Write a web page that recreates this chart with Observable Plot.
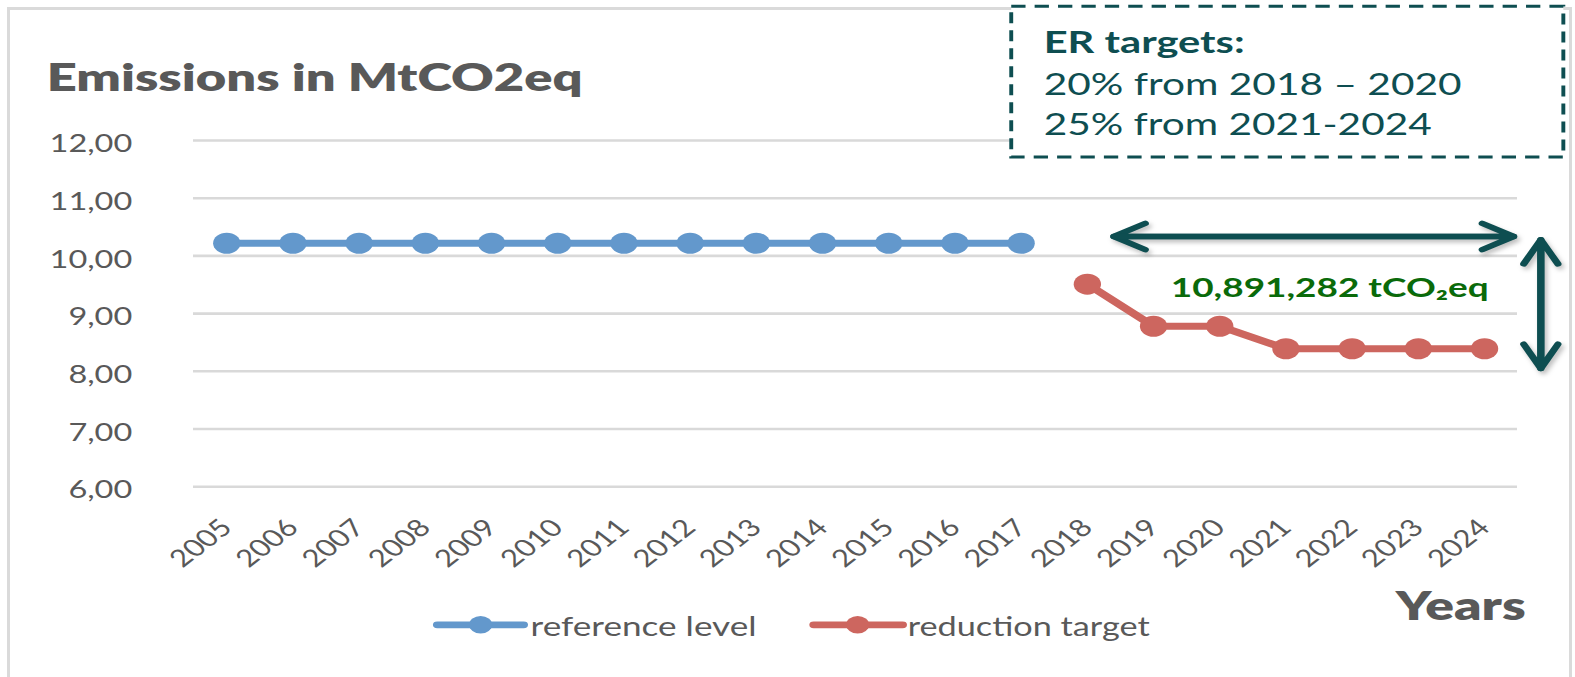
<!DOCTYPE html>
<html>
<head>
<meta charset="utf-8">
<script src="https://cdn.jsdelivr.net/npm/d3@7"></script>
<script src="https://cdn.jsdelivr.net/npm/@observablehq/plot@0.6"></script>
<style>
  html, body { margin: 0; padding: 0; background: #ffffff; }
  #wrap { position: relative; width: 1575px; height: 677px; overflow: hidden; }
  #border { position: absolute; left: 7px; top: 7px; width: 1565px; height: 740px;
            border: 3px solid #dadada; box-sizing: border-box; }
  #chart { position: absolute; left: 0; top: 0; }
</style>
</head>
<body>
<div id="wrap"><div id="border"></div><div id="chart"></div></div>
<script>
// ---------- data ----------
const years = [2005, 2006, 2007, 2008, 2009, 2010, 2011, 2012, 2013, 2014,
               2015, 2016, 2017, 2018, 2019, 2020, 2021, 2022, 2023, 2024];
const referenceYears = [2005, 2006, 2007, 2008, 2009, 2010, 2011, 2012, 2013, 2014, 2015, 2016, 2017];
const referenceValues = [10.22, 10.22, 10.22, 10.22, 10.22, 10.22, 10.22, 10.22, 10.22, 10.22, 10.22, 10.22, 10.22];
const targetYears = [2018, 2019, 2020, 2021, 2022, 2023, 2024];
const targetValues = [9.51, 8.78, 8.78, 8.39, 8.39, 8.39, 8.39];
const yTicks = [6, 7, 8, 9, 10, 11, 12];
const yTickLabels = ["6,00", "7,00", "8,00", "9,00", "10,00", "11,00", "12,00"];
const seriesNames = ["reference level", "reduction target"];
const titleText = "Emissions in MtCO2eq";
const xTitleText = "Years";
const boxLines = ["ER targets:", "20% from 2018 – 2020", "25% from 2021-2024"];
const annotationText = "10,891,282 tCO₂eq";

// ---------- styles / layout ----------
const S = 1.3;                 // horizontal stretch of the original picture
const W = 1575 / S, H = 677;
const BLUE = "#6398cc", RED = "#cd665f", TEAL = "#0e4e51", GREEN = "#0a6a0a", GRAY = "#595959", GRID = "#d9d9d9";

const referenceData = referenceYears.map((year, i) => ({year, value: referenceValues[i]}));
const targetData = targetYears.map((year, i) => ({year, value: targetValues[i]}));

// annotation geometry, in data units (years, MtCO2eq)
const arrows = [
  {x1: 2024.44, y1: 10.336, x2: 2018.40, y2: 10.336},
  {x1: 2018.40, y1: 10.336, x2: 2024.44, y2: 10.336},
  {x1: 2024.85, y1: 8.05, x2: 2024.85, y2: 10.28},
  {x1: 2024.85, y1: 10.28, x2: 2024.85, y2: 8.05}
];
const box = [{x1: 2016.86, x2: 2025.20, y1: 11.705, y2: 14.32}];
const boxText = boxLines.map((text, i) => ({text, x: 2017.34, y: [13.508, 12.797, 12.087][i], bold: i === 0}));
const annotation = [{text: annotationText, x: 2019.26, y: 9.284}];
const legend = [
  {label: seriesNames[0], color: BLUE, x1: 2008.18, x2: 2009.485, xd: 2008.835, xt: 2009.59, y: 3.607},
  {label: seriesNames[1], color: RED,  x1: 2013.866, x2: 2015.21, xd: 2014.53, xt: 2015.286, y: 3.607}
];

const chart = Plot.plot({
  width: W,
  height: H,
  marginLeft: 193 / S,
  marginRight: 58 / S,
  marginTop: 140,
  marginBottom: H - 486.2,
  x: {domain: [2004.5, 2024.5], axis: null},
  y: {domain: [6, 12], axis: null},
  style: {fontFamily: "Lato, 'Open Sans', sans-serif", background: "transparent", overflow: "visible"},
  marks: [
    Plot.ruleY(yTicks, {stroke: GRID, strokeWidth: 2.6}),
    Plot.text(yTicks, {y: d => d, text: (d, i) => yTickLabels[i], frameAnchor: "left",
      textAnchor: "end", lineAnchor: "bottom", dx: -47.2, dy: 11.7, fontSize: 25, fill: GRAY}),
    Plot.text(years, {x: d => d, text: d => String(d), frameAnchor: "bottom", rotate: -45,
      textAnchor: "end", lineAnchor: "bottom", dx: 5.4, dy: 42.5, fontSize: 24, fill: GRAY}),
    Plot.line(referenceData, {x: "year", y: "value", stroke: BLUE, strokeWidth: 7}),
    Plot.dot(referenceData, {x: "year", y: "value", r: 10.5, fill: BLUE}),
    Plot.line(targetData, {x: "year", y: "value", stroke: RED, strokeWidth: 7}),
    Plot.dot(targetData, {x: "year", y: "value", r: 10.5, fill: RED}),
    Plot.rect(box, {x1: "x1", x2: "x2", y1: "y1", y2: "y2", fill: "white", stroke: TEAL,
      strokeWidth: 3, strokeDasharray: "11,7"}),
    Plot.text(boxText.filter(d => d.bold), {x: "x", y: "y", text: "text", textAnchor: "start",
      lineAnchor: "bottom", fontSize: 30, fontWeight: "bold", fill: TEAL}),
    Plot.text(boxText.filter(d => !d.bold), {x: "x", y: "y", text: "text", textAnchor: "start",
      lineAnchor: "bottom", fontSize: 30, fill: TEAL}),
    Plot.arrow(arrows, {x1: "x1", y1: "y1", x2: "x2", y2: "y2", stroke: TEAL, strokeWidth: 5.5,
      headLength: 7.5, headAngle: 57, imageFilter: "drop-shadow(2px 3px 2px rgba(0,0,0,0.25))"}),
    Plot.text(annotation, {x: "x", y: "y", text: "text", textAnchor: "start", lineAnchor: "bottom",
      fontSize: 27, fontWeight: "bold", fill: GREEN}),
    Plot.link(legend, {x1: "x1", x2: "x2", y1: "y", y2: "y", stroke: "color", strokeWidth: 6.7, strokeLinecap: "round"}),
    Plot.dot(legend, {x: "xd", y: "y", r: 8.8, fill: "color"}),
    Plot.text(legend, {x: "xt", y: "y", text: "label", textAnchor: "start", lineAnchor: "middle",
      dy: 3, fontSize: 26, fill: GRAY}),
    Plot.text([titleText], {frameAnchor: "top-left", text: d => d, textAnchor: "start", lineAnchor: "bottom",
      dx: (46 - 193) / S, dy: 90 - 140, fontSize: 37, fontWeight: 800, fill: GRAY}),
    Plot.text([xTitleText], {frameAnchor: "bottom-right", text: d => d, textAnchor: "end", lineAnchor: "bottom",
      dx: (1525 - 1517) / S, dy: 619 - 486.2, fontSize: 40, fontWeight: 800, fill: GRAY})
  ]
});

// target on-screen widths of the texts of the original picture
const screenWidths = new Map([
  [titleText, 536], [xTitleText, 130],
  [boxLines[0], 201], [boxLines[1], 418], [boxLines[2], 388],
  [annotationText, 318], [seriesNames[0], 226], [seriesNames[1], 242]
]);
chart.querySelectorAll("text").forEach(t => {
  const w = screenWidths.get(t.textContent);
  if (w) {
    t.setAttribute("textLength", (w / S).toFixed(1));
    t.setAttribute("lengthAdjust", "spacingAndGlyphs");
  }
});
chart.setAttribute("width", 1575);
chart.setAttribute("height", H);
chart.setAttribute("preserveAspectRatio", "none");
chart.style.width = "1575px";
chart.style.height = H + "px";
chart.style.maxWidth = "none";
document.getElementById("chart").appendChild(chart);
</script>
</body>
</html>
